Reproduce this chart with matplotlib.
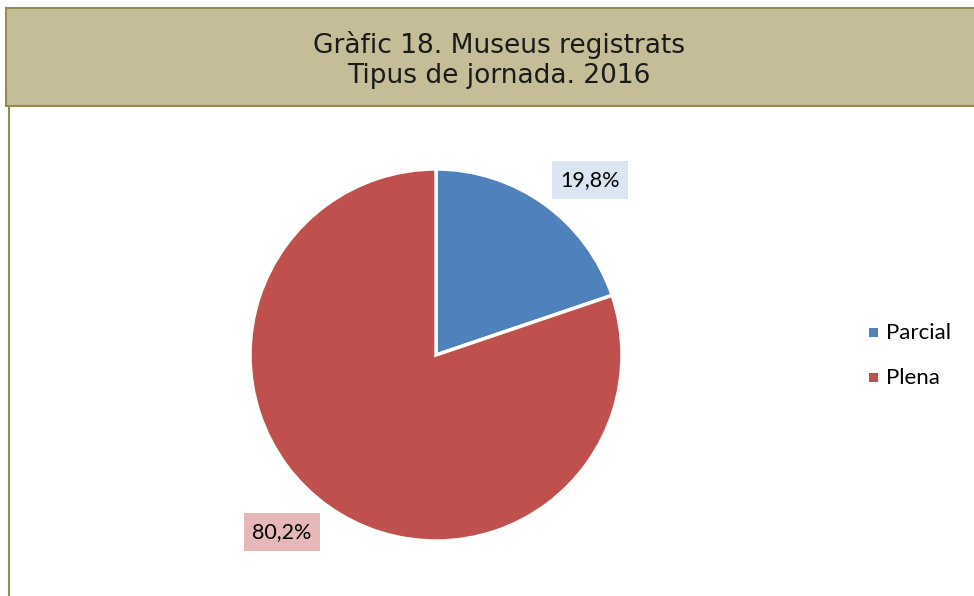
import matplotlib
matplotlib.use("Agg")
import matplotlib.pyplot as plt
from matplotlib.patches import Rectangle

categories = ["Parcial", "Plena"]
values = [19.8, 80.2]
labels = ["19,8%", "80,2%"]
colors = ["#4F81BD", "#C0504D"]
box_colors = ["#DCE6F2", "#E6B9B8"]
title_lines = ["Gràfic 18. Museus registrats", "Tipus de jornada. 2016"]

W, H = 974, 596
fig = plt.figure(figsize=(W/100, H/100), dpi=100)
fig.patch.set_facecolor("white")

# title band
fig.patches.append(Rectangle((6/W, 1 - 106/H), 1, 98/H, transform=fig.transFigure,
                             facecolor="#C4BD97", edgecolor="#948A54", linewidth=1.5))
# left border line
fig.add_artist(plt.Line2D([8.5/W, 8.5/W], [0, 1 - 106/H], transform=fig.transFigure,
                          color="#948A54", linewidth=1.5))
fig.text(499/W, 1 - 45/H, title_lines[0], ha="center", va="center",
         fontsize=19, family="DejaVu Sans", color="#1a1a1a")
fig.text(499/W, 1 - 76/H, title_lines[1], ha="center", va="center",
         fontsize=19, family="DejaVu Sans", color="#1a1a1a")

cx, cy, r = 436, 355, 186
ax = fig.add_axes([(cx - r)/W, 1 - (cy + r)/H, 2*r/W, 2*r/H])
wedges, _ = ax.pie(values, colors=colors, startangle=90, counterclock=False,
                   wedgeprops=dict(edgecolor="white", linewidth=2.5))
ax.set_xlim(-1, 1)
ax.set_ylim(-1, 1)
ax.set_aspect("equal")

label_pos = [(590, 180), (282, 532)]
for (lx, ly), txt, bc in zip(label_pos, labels, box_colors):
    fig.text(lx/W, 1 - ly/H, txt, ha="center", va="center", fontsize=15.5,
             family="Lato", color="black",
             bbox=dict(boxstyle="square,pad=0.4", facecolor=bc, edgecolor="none"))

leg_y = [333, 378]
for cat, c, y in zip(categories, colors, leg_y):
    fig.patches.append(Rectangle((869/W, 1 - (y + 4)/H), 9/W, 9/H, transform=fig.transFigure,
                                 facecolor=c, edgecolor="none"))
    fig.text(886/W, 1 - y/H, cat, ha="left", va="center", fontsize=16,
             family="Lato", color="black")

fig.savefig("out.png", dpi=100)
